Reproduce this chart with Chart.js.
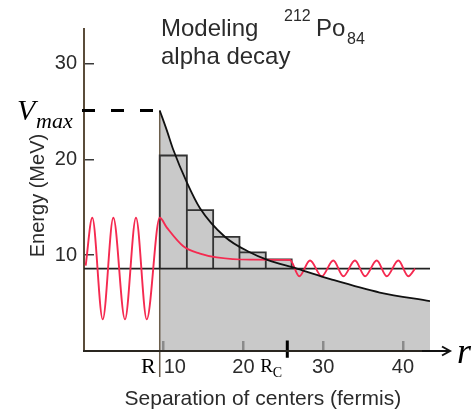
<!DOCTYPE html>
<html>
<head>
<meta charset="utf-8">
<script src="https://cdn.jsdelivr.net/npm/chart.js@4.4.1/dist/chart.umd.min.js"></script>
<style>
  html, body { margin: 0; padding: 0; background: #fff; }
  #wrap { width: 475px; height: 412px; }
</style>
</head>
<body>
<div id="wrap"><canvas id="chart" width="475" height="412"></canvas></div>
<script>
// values (r in fermis, energy in MeV)
const xTicks = [10, 20, 30, 40];
const yTicks = [10, 20, 30];
const alphaE = 8.6;      // alpha particle energy line
const vMax = 25.1;       // barrier top
const nucR = 9.5;        // R
const coulR = 25.5;      // R_C

// Coulomb barrier
const curveR = [9.5, 10.4, 11.2, 12.9, 14.55, 17.7, 20.8, 23.0, 26.7, 30.9, 37.1, 43.4];
const curveE = [25.1, 23.0, 21.0, 17.6, 14.9, 11.9, 10.3, 9.5, 8.6, 7.5, 6.1, 5.2];

// staircase approximation of the barrier
const stepEdges = [9.5, 12.9, 16.2, 19.5, 22.8, 26.05];
const stepTops = [20.4, 14.7, 11.9, 10.3, 9.55];

// wave function (red)
const waveR = [0.21, 1.04, 2.35, 3.68, 5.14, 6.52, 7.87, 9.5, 10.37, 12.46, 14.55, 16.65, 20.82, 25.84,
  27.0, 28.35, 29.82, 31.27, 32.53, 33.99, 35.25, 36.72, 37.97, 39.43, 40.68, 41.52];
const waveE = [8.9, 13.9, 3.3, 13.9, 3.3, 13.9, 3.3, 13.9, 12.9, 10.93, 10.17, 9.77, 9.53, 9.5,
  7.8, 9.45, 7.8, 9.45, 7.8, 9.45, 7.8, 9.45, 7.8, 9.45, 7.8, 8.6];

const X_MAX = 43.4, Y_MAX = 33.6;
const SANS = '"Liberation Sans", Arial, sans-serif';
const SERIF = '"Liberation Serif", "Times New Roman", serif';
const INK = '#2b2b2b';
const GRAY = '#c9c9c9';

const pts = (xs, ys) => xs.map((x, i) => ({ x, y: ys[i] }));

// rectangles of the staircase as one path, each one standing on the energy line
const stepPts = [{ x: stepEdges[0], y: alphaE }];
stepTops.forEach((h, i) => {
  stepPts.push({ x: stepEdges[i], y: h }, { x: stepEdges[i + 1], y: h }, { x: stepEdges[i + 1], y: alphaE });
});

// labels, title and the r arrow
const notes = {
  id: 'notes',
  afterDraw(chart) {
    const { ctx, chartArea: a, scales: { x, y } } = chart;
    ctx.save();
    const ay = y.getPixelForValue(0);
    ctx.strokeStyle = '#111';
    ctx.lineWidth = 2;
    ctx.beginPath();
    ctx.moveTo(a.right - 8, ay); ctx.lineTo(a.right + 20, ay);
    ctx.moveTo(a.right + 12, ay - 4.5); ctx.lineTo(a.right + 20, ay); ctx.lineTo(a.right + 12, ay + 4.5);
    ctx.stroke();

    ctx.fillStyle = INK;
    ctx.textBaseline = 'alphabetic';
    ctx.textAlign = 'left';
    ctx.font = '24px ' + SANS;
    ctx.fillText('Modeling', 161, 36);
    ctx.fillText('alpha decay', 161, 64);
    ctx.fillText('Po', 316, 36);
    ctx.font = '16px ' + SANS;
    ctx.fillText('212', 284, 21);
    ctx.fillText('84', 347, 44);

    ctx.fillStyle = '#000';
    const yv = y.getPixelForValue(vMax);
    ctx.font = 'italic 30px ' + SERIF;
    ctx.fillText('V', 17, yv + 10);
    ctx.font = 'italic 22px ' + SERIF;
    ctx.fillText('max', 36, yv + 18);

    ctx.font = '22px ' + SERIF;
    ctx.textAlign = 'right';
    ctx.fillText('R', x.getPixelForValue(nucR) - 4, ay + 22);
    ctx.textAlign = 'left';
    const rc = x.getPixelForValue(coulR);
    ctx.font = '19px ' + SERIF;
    ctx.fillText('R', rc - 27, ay + 21);
    ctx.font = '14px ' + SERIF;
    ctx.fillText('C', rc - 14.5, ay + 26);

    ctx.font = 'italic 36px ' + SERIF;
    ctx.fillText('r', a.right + 27, ay + 12);
    ctx.restore();
  }
};

Chart.defaults.font.family = SANS;
Chart.defaults.color = INK;

new Chart(document.getElementById('chart'), {
  type: 'line',
  data: {
    datasets: [
      { label: 'barrier', data: pts(curveR, curveE), order: 0, borderColor: '#111', borderWidth: 1.8,
        fill: 'origin', backgroundColor: GRAY, cubicInterpolationMode: 'monotone' },
      { label: 'wave', data: pts(waveR, waveE), order: 1, borderColor: '#f52a50', borderWidth: 1.9,
        fill: false, cubicInterpolationMode: 'monotone' },
      { label: 'energy', data: [{ x: 0, y: alphaE }, { x: X_MAX, y: alphaE }], order: 2,
        borderColor: '#222', borderWidth: 1.8, fill: false },
      { label: 'steps', data: stepPts, order: 3, borderColor: '#333', borderWidth: 1.8,
        fill: 'origin', backgroundColor: GRAY },
      { label: 'R', data: [{ x: nucR, y: vMax }, { x: nucR, y: -2.7 }], order: 4,
        borderColor: '#6b5e4c', borderWidth: 1.5, fill: false, clip: false },
      { label: 'Rc', data: [{ x: coulR, y: 1.1 }, { x: coulR, y: -0.7 }], order: 5,
        borderColor: '#000', borderWidth: 3, fill: false, clip: false },
      { label: 'Vmax', data: [{ x: -0.25, y: vMax }, { x: 8.8, y: vMax }], order: 6,
        borderColor: '#000', borderWidth: 3, borderDash: [13, 16], fill: false, clip: false },
    ],
  },
  options: {
    responsive: false,
    animation: false,
    devicePixelRatio: 1,
    layout: { padding: { left: 0, right: 45, top: 15, bottom: 0 } },
    elements: { point: { radius: 0, hoverRadius: 0 }, line: { tension: 0 } },
    plugins: {
      legend: { display: false },
      tooltip: { enabled: false },
      filler: { drawTime: 'beforeDatasetsDraw' },
    },
    scales: {
      x: {
        type: 'linear', min: 0, max: X_MAX,
        afterFit(s) { s.height = 61; },
        afterBuildTicks(s) { s.ticks = xTicks.map((v) => ({ value: v })); },
        grid: { drawOnChartArea: false, tickLength: -10, color: '#8a8a8a', lineWidth: 2.5, z: 1 },
        border: { color: '#2a2620', width: 2, z: 1 },
        ticks: {
          padding: 14, autoSkip: false, maxRotation: 0, font: { size: 20 }, color: INK,
          callback: (v) => (v === xTicks[0] ? '    ' + v : String(v)),
        },
        title: { display: true, text: '  Separation of centers (fermis)', font: { size: 21 },
          color: INK, padding: { top: 0, bottom: 0 } },
      },
      y: {
        type: 'linear', min: 0, max: Y_MAX,
        afterFit(s) { s.width = 84; },
        afterBuildTicks(s) { s.ticks = yTicks.map((v) => ({ value: v })); },
        grid: { drawOnChartArea: false, tickLength: -10, color: '#3a3a3a', lineWidth: 1.5 },
        border: { color: '#5a4c3a', width: 2 },
        ticks: { padding: 17, font: { size: 20 }, color: INK },
        title: { display: true, text: 'Energy (MeV)  ', font: { size: 20 }, color: INK,
          padding: { top: 26, bottom: 0 } },
      },
    },
  },
  plugins: [notes],
});
</script>
</body>
</html>
